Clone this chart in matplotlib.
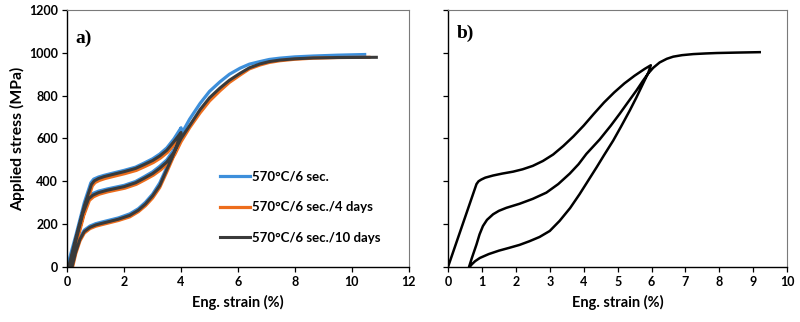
import matplotlib.pyplot as plt

# a) three heat treatments, each path = loading, unloading, reloading
blue_strain = [0.0, 0.3, 0.6, 0.83, 0.93, 1.1, 1.3, 1.6, 2.0, 2.4, 2.7, 3.0, 3.25, 3.5, 3.75, 4.0,
               3.95, 3.85, 3.7, 3.5, 3.25, 3.0, 2.75, 2.5, 2.2, 1.8, 1.5, 1.2, 1.0, 0.8, 0.6, 0.45, 0.3, 0.13,
               0.08, 0.3, 0.55, 0.73, 0.9, 1.1, 1.4, 2.0, 2.4, 2.7, 3.0, 3.25, 3.5, 3.75, 4.0,
               4.3, 4.67, 5.0, 5.37, 5.7, 6.07, 6.4, 6.77, 7.1, 7.47, 8.0, 8.64, 9.5, 10.45]
blue_stress = [0, 145, 300, 393, 410, 420, 428, 438, 451, 466, 485, 505, 527, 556, 598, 650,
               622, 578, 527, 465, 392, 340, 302, 272, 248, 229, 219, 209, 202, 191, 172, 138, 78, 0,
               0, 128, 260, 325, 343, 354, 364, 381, 399, 421, 444, 470, 500, 548, 618,
               690, 764, 820, 865, 900, 928, 947, 959, 969, 975, 981, 985, 989, 992]

orange_strain = [0.08, 0.33, 0.63, 0.88, 0.98, 1.13, 1.33, 1.63, 2.03, 2.43, 2.73, 3.03, 3.28, 3.53, 3.78, 4.0,
                 3.95, 3.85, 3.7, 3.5, 3.25, 3.0, 2.75, 2.5, 2.2, 1.8, 1.5, 1.2, 1.0, 0.8, 0.6, 0.45, 0.3, 0.19,
                 0.13, 0.33, 0.58, 0.78, 0.93, 1.13, 1.43, 2.03, 2.43, 2.73, 3.03, 3.28, 3.53, 3.78, 4.0,
                 4.3, 4.67, 5.0, 5.37, 5.7, 6.07, 6.4, 6.77, 7.1, 7.47, 8.0, 8.64, 9.5, 10.6]
orange_stress = [0, 128, 272, 378, 394, 404, 413, 423, 436, 451, 469, 488, 509, 536, 575, 612,
                 598, 557, 505, 444, 371, 322, 286, 258, 234, 217, 207, 197, 190, 179, 158, 122, 62, 0,
                 0, 112, 240, 311, 328, 340, 351, 368, 386, 407, 429, 453, 482, 525, 585,
                 650, 720, 775, 823, 862, 896, 925, 943, 955, 963, 970, 975, 978, 979]

gray_strain = [0.05, 0.3, 0.6, 0.85, 0.95, 1.1, 1.3, 1.6, 2.0, 2.4, 2.7, 3.0, 3.25, 3.5, 3.75, 4.0,
               3.95, 3.85, 3.7, 3.5, 3.25, 3.0, 2.75, 2.5, 2.2, 1.8, 1.5, 1.2, 1.0, 0.8, 0.6, 0.45, 0.3, 0.17,
               0.1, 0.3, 0.55, 0.75, 0.9, 1.1, 1.4, 2.0, 2.4, 2.7, 3.0, 3.25, 3.5, 3.75, 4.0,
               4.3, 4.67, 5.0, 5.37, 5.7, 6.07, 6.4, 6.77, 7.1, 7.47, 8.0, 8.64, 9.5, 10.86]
gray_stress = [0, 135, 285, 385, 402, 413, 422, 432, 445, 460, 478, 497, 518, 545, 585, 628,
               610, 567, 515, 455, 380, 332, 294, 265, 241, 223, 213, 203, 196, 185, 165, 130, 70, 0,
               0, 120, 250, 318, 335, 347, 358, 375, 393, 414, 436, 461, 490, 535, 600,
               660, 735, 790, 836, 872, 904, 930, 948, 959, 966, 972, 976, 978, 979]

labels = ["570°C/6 sec.", "570°C/6 sec./4 days", "570°C/6 sec./10 days"]

# b) loading to 6 %, unloading, reloading to 9.2 %
b_strain = [0, 0.84, 0.9, 0.98, 1.1, 1.33, 1.6, 1.92, 2.2, 2.5, 2.8, 3.1, 3.4, 3.7, 4.0, 4.3, 4.6,
            4.9, 5.2, 5.5, 5.8, 5.98,
            5.9, 5.75, 5.55, 5.36, 5.1, 4.87, 4.6, 4.38, 4.1, 3.88, 3.6, 3.29, 3.0, 2.7, 2.4, 2.11,
            1.8, 1.5, 1.2, 0.94, 0.8, 0.7, 0.64,
            0.62, 0.7, 0.84, 0.93, 1.03, 1.15, 1.33, 1.5, 1.72, 2.11, 2.5, 2.9, 3.25, 3.59, 3.85,
            4.08, 4.47, 4.8, 5.06, 5.3, 5.56, 5.75, 5.9, 6.05, 6.24, 6.45, 6.64, 6.9, 7.23, 7.6,
            7.92, 8.5, 9.19]
b_stress = [0, 387, 400, 408, 417, 427, 436, 445, 456, 472, 495, 525, 565, 610, 660, 715, 768,
            815, 857, 893, 925, 942,
            905, 856, 790, 731, 655, 590, 522, 465, 395, 340, 275, 215, 168, 140, 120, 103,
            89, 76, 60, 42, 27, 12, 0,
            0, 40, 105, 152, 191, 220, 246, 262, 276, 295, 318, 347, 387, 436, 480,
            528, 595, 660, 715, 768, 825, 870, 903, 930, 955, 972, 982, 989, 994, 997,
            999, 1001, 1003]

plt.rcParams['font.family'] = ['Lato', 'DejaVu Sans']
plt.rcParams['font.weight'] = 'bold'

fig = plt.figure(figsize=(8, 3.22), dpi=100)
ax1 = fig.add_axes([0.084, 0.171, 0.427, 0.798])
ax2 = fig.add_axes([0.560, 0.171, 0.424, 0.798])

ax1.plot(blue_strain, blue_stress, color="#3d8fdb", lw=2.3, label=labels[0])
ax1.plot(orange_strain, orange_stress, color="#ed6d1c", lw=2.3, label=labels[1])
ax1.plot(gray_strain, gray_stress, color="#3a3a3a", lw=2.2, label=labels[2])

ax2.plot(b_strain, b_stress, color="black", lw=1.8)

ax1.set_xlim(0, 12)
ax1.set_xticks(range(0, 13, 2))
ax2.set_xlim(0, 10)
ax2.set_xticks(range(0, 11))
for ax in (ax1, ax2):
    ax.set_ylim(0, 1200)
    ax.set_yticks(range(0, 1201, 200))
    ax.tick_params(direction='out', length=3.5, width=0.9, labelsize=9, pad=3)
    ax.set_xlabel("Eng. strain (%)", fontsize=10.5, fontweight='bold', labelpad=5)
    for s in ('left', 'bottom'):
        ax.spines[s].set_linewidth(1.0)
    for s in ('top', 'right'):
        ax.spines[s].set_color('#7a7a7a')
        ax.spines[s].set_linewidth(0.8)
ax2.tick_params(axis='y', labelleft=False)
ax1.set_ylabel("Applied stress (MPa)", fontsize=11.3, fontweight='bold', labelpad=3)

ax1.text(0.025, 0.89, "a)", transform=ax1.transAxes, fontsize=14, fontweight='bold',
         family='Liberation Serif', va='center', ha='left')
ax2.text(0.026, 0.91, "b)", transform=ax2.transAxes, fontsize=14, fontweight='bold',
         family='Liberation Serif', va='center', ha='left')

ax1.legend(loc='upper left', bbox_to_anchor=(0.447, 0.374), frameon=False, fontsize=9.5,
           handlelength=2.3, handletextpad=0.1, labelspacing=1.4, borderpad=0,
           borderaxespad=0)

plt.savefig("out.png", dpi=100)
